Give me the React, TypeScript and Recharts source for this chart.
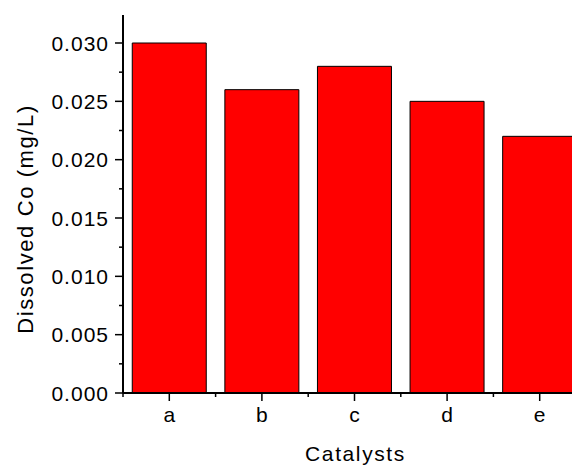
import { BarChart, Bar, XAxis, YAxis, Label } from "recharts";

const CATEGORIES = ["a", "b", "c", "d", "e"];
const DISSOLVED_CO = [0.03, 0.026, 0.028, 0.025, 0.022];
const Y_TICKS = [0, 0.0025, 0.005, 0.0075, 0.01, 0.0125, 0.015, 0.0175, 0.02, 0.0225, 0.025, 0.0275, 0.03];
const Y_MAJOR = [0, 0.005, 0.01, 0.015, 0.02, 0.025, 0.03];

const data = CATEGORIES.map((cat, i) => ({ cat, co: DISSOLVED_CO[i] }));

const CHART_W = 600;
const CHART_H = 459;
const Y_AXIS_W = 115;
const MARGIN_TOP = 7;
const MARGIN_RIGHT = 22;
const X_AXIS_H = 74;
const BAND = (CHART_W - Y_AXIS_W - MARGIN_RIGHT) / CATEGORIES.length;
const FONT = "'Liberation Sans', Arial, sans-serif";

function YTick(props: any) {
  const { x, y, payload } = props;
  const major = Y_MAJOR.some((v) => Math.abs(v - payload.value) < 1e-9);
  return (
    <g>
      <line x1={x} x2={x - (major ? 8 : 4)} y1={y} y2={y} stroke="#000" strokeWidth={1.5} />
      {major && (
        <text
          x={x - 14}
          y={y}
          dy={7.5}
          textAnchor="end"
          fontSize={21}
          letterSpacing={1}
          fontFamily={FONT}
          fill="#000"
        >
          {payload.value.toFixed(3)}
        </text>
      )}
    </g>
  );
}

function XTick(props: any) {
  const { x, y, payload } = props;
  return (
    <g>
      <line x1={x} x2={x} y1={y} y2={y + 8} stroke="#000" strokeWidth={1.5} />
      <line x1={x - BAND / 2} x2={x - BAND / 2} y1={y} y2={y + 4} stroke="#000" strokeWidth={1.5} />
      <text x={x} y={y + 29} textAnchor="middle" fontSize={21} fontFamily={FONT} fill="#000">
        {payload.value}
      </text>
    </g>
  );
}

function YTitle(props: any) {
  const cy = MARGIN_TOP + (CHART_H - MARGIN_TOP - X_AXIS_H) / 2 + 15;
  return (
    <text
      x={25}
      y={cy}
      transform={`rotate(-90 25 ${cy})`}
      textAnchor="middle"
      fontSize={22}
      letterSpacing={1.6}
      fontFamily={FONT}
      fill="#000"
    >
      Dissolved Co (mg/L)
    </text>
  );
}

function XTitle(props: any) {
  const cx = Y_AXIS_W + (CHART_W - Y_AXIS_W - MARGIN_RIGHT) / 2;
  return (
    <text
      x={cx + 1}
      y={CHART_H - 6}
      textAnchor="middle"
      fontSize={21}
      letterSpacing={1.6}
      fontFamily={FONT}
      fill="#000"
    >
      Catalysts
    </text>
  );
}

export default function App() {
  return (
    <div style={{ width: 572, height: 459, overflow: "hidden", background: "#fff" }}>
      <BarChart
        width={CHART_W}
        height={CHART_H}
        data={data}
        margin={{ top: MARGIN_TOP, right: MARGIN_RIGHT, bottom: 0, left: 0 }}
        barCategoryGap="10%"
      >
        <XAxis
          dataKey="cat"
          height={X_AXIS_H}
          tickSize={0}
          tickMargin={0}
          tick={<XTick />}
          axisLine={{ stroke: "#000", strokeWidth: 2 }}
        >
          <Label content={<XTitle />} />
        </XAxis>
        <XAxis
          xAxisId="top"
          dataKey="cat"
          orientation="top"
          height={0}
          tick={false}
          tickLine={false}
          axisLine={{ stroke: "#000", strokeWidth: 2 }}
        />
        <YAxis
          width={Y_AXIS_W}
          domain={[0, 0.0324]}
          ticks={Y_TICKS}
          interval={0}
          tickSize={0}
          tickMargin={0}
          tick={<YTick />}
          axisLine={{ stroke: "#000", strokeWidth: 2 }}
        >
          <Label content={<YTitle />} />
        </YAxis>
        <YAxis
          yAxisId="right"
          orientation="right"
          width={0}
          tick={false}
          tickLine={false}
          axisLine={{ stroke: "#000", strokeWidth: 2 }}
        />
        <Bar dataKey="co" fill="#ff0000" stroke="#000" strokeWidth={1} isAnimationActive={false} />
      </BarChart>
    </div>
  );
}
